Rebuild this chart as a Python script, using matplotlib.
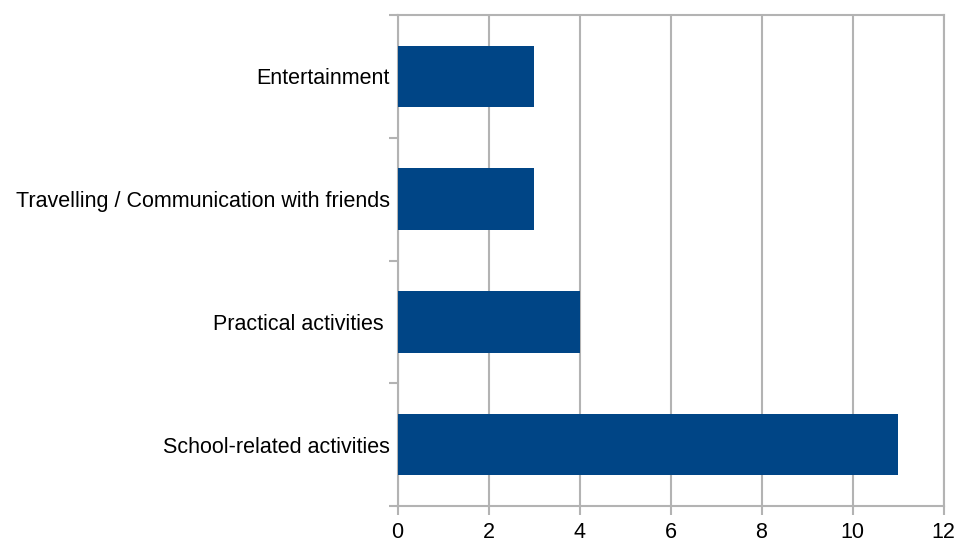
import matplotlib
matplotlib.use("Agg")
import matplotlib.pyplot as plt
import numpy as np

# categories from bottom to top
categories = ["School-related activities", "Practical activities ",
              "Travelling / Communication with friends", "Entertainment"]
values = [11, 4, 3, 3]
xticks = [0, 2, 4, 6, 8, 10, 12]

plt.rcParams["font.family"] = ["Liberation Sans", "DejaVu Sans"]

fig = plt.figure(figsize=(9.57, 5.43), dpi=100)
ax = fig.add_axes([397.5 / 957, 37 / 543, 546 / 957, 491 / 543])

grey = "#b3b3b3"
pos = np.arange(len(categories))
ax.barh(pos, values, height=0.5, color="#004586", zorder=3)

ax.set_xlim(0, 12)
ax.set_ylim(-0.5, len(categories) - 0.5)
ax.set_xticks(xticks)
ax.set_xticklabels([str(t) for t in xticks], fontsize=15.5)
ax.set_yticks(pos)
ax.set_yticklabels(categories, fontsize=15.5)
ax.set_yticks(np.arange(len(categories) + 1) - 0.5, minor=True)

ax.grid(axis="x", color=grey, linewidth=1.5, zorder=0)
for s in ax.spines.values():
    s.set_color(grey)
    s.set_linewidth(1.5)

ax.tick_params(axis="x", which="major", length=6.5, width=1.5, color=grey, pad=5)
ax.tick_params(axis="y", which="major", length=0, pad=5.5)
ax.tick_params(axis="y", which="minor", length=6.5, width=1.5, color=grey)

fig.savefig("out.png", dpi=100)
